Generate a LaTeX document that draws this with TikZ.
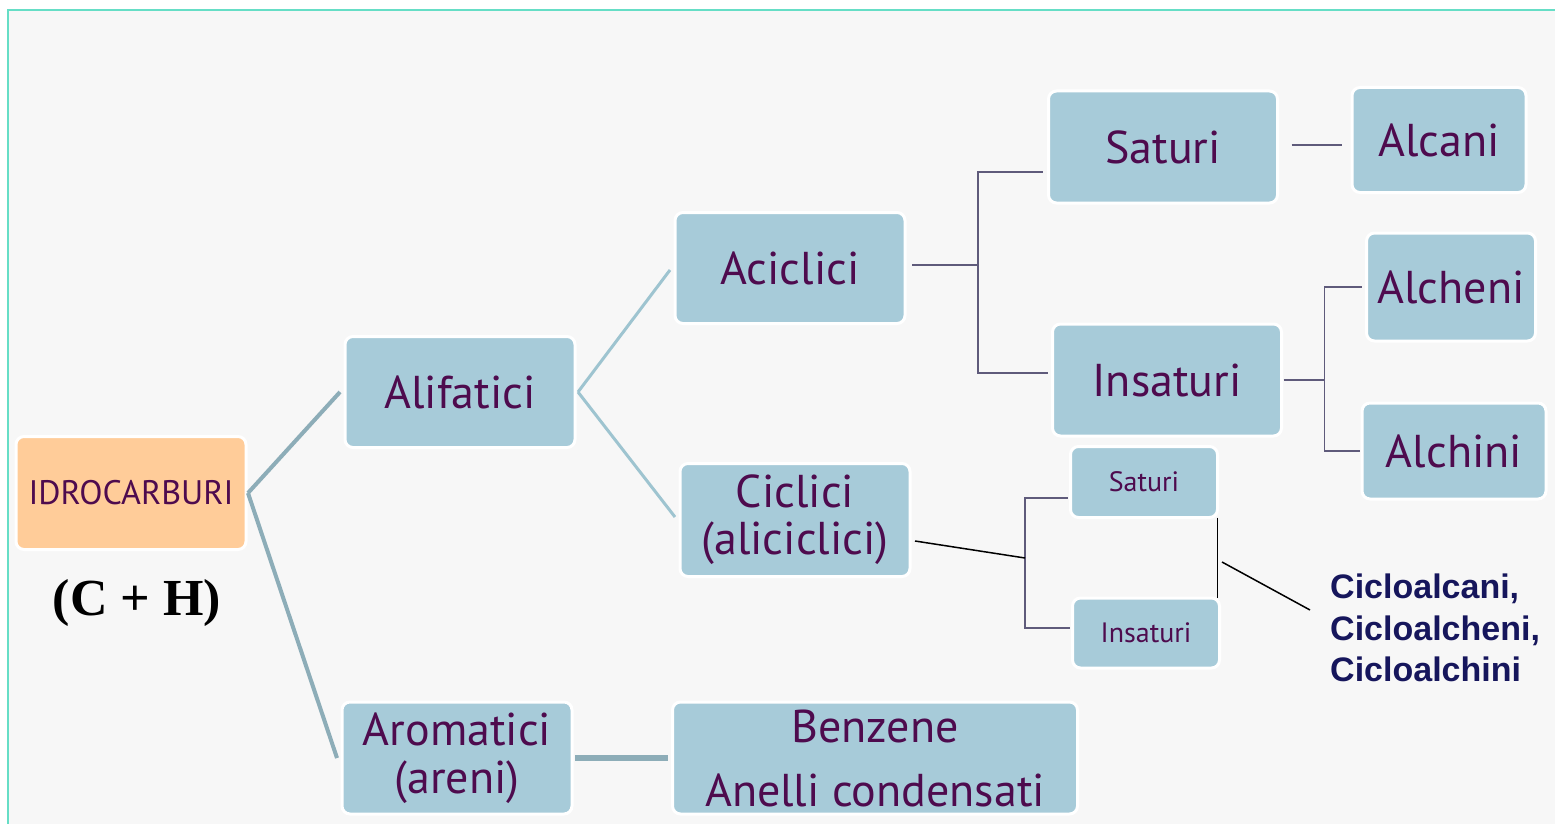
\documentclass[tikz,border=0pt]{standalone}
\usepackage{fontspec}
\setmainfont{PT Sans}
\newfontfamily\serifbf{Liberation Serif}
\newfontfamily\arialbf{Liberation Sans}
\definecolor{sfondo}{HTML}{F7F7F7}
\definecolor{cornice}{HTML}{66DEC6}
\definecolor{azzurro}{HTML}{A7CBD9}
\definecolor{arancio}{HTML}{FFCC99}
\definecolor{viola}{HTML}{4E0B4E}
\definecolor{ramo}{HTML}{8DADB8}
\definecolor{ramochiaro}{HTML}{9EC4D0}
\definecolor{linea}{HTML}{5F5B7B}
\definecolor{blunotte}{HTML}{16165C}
\begin{document}
\begin{tikzpicture}[x=1pt,y=-1pt,
  scatola/.style={rectangle,rounded corners=8pt,fill=azzurro,draw=white,line width=3pt,
    text=viola,align=center,inner sep=0pt,outer sep=0pt,font=\fontsize{46}{48}\selectfont},
  piccola/.style={scatola,font=\fontsize{28}{30}\selectfont},
  elbow/.style={linea,line width=1.5pt},
  nero/.style={black,line width=1.5pt}]
\useasboundingbox (0,0) rectangle (1555,824);
\fill[white] (0,0) rectangle (1555,824);
\fill[sfondo] (8,10) rectangle (1555,824);
\draw[cornice,line width=2pt] (8,824) -- (8,10) -- (1555,10);
% caselle
\node[scatola,fill=arancio,minimum width=230,minimum height=113,font=\fontsize{34}{36}\selectfont] (idro) at (131,493) {IDROCARBURI};
\node[font=\serifbf\bfseries\fontsize{52}{54}\selectfont] (ch) at (137,603) {(C + H)};
\node[scatola,minimum width=230,minimum height=111] (alif) at (460,392) {Alifatici};
\node[scatola,minimum width=230,minimum height=111] (acic) at (790,268) {Aciclici};
\node[scatola,minimum width=230,minimum height=113,font=\fontsize{46}{47}\selectfont] (cicl) at (795,520) {Ciclici\\(aliciclici)};
\node[scatola,minimum width=230,minimum height=112] (arom) at (457,758) {Aromatici\\(areni)};
\node[scatola,minimum width=405,minimum height=112] (benz) at (875,758) {Benzene\\[16pt]Anelli condensati};
\node[scatola,minimum width=229,minimum height=112] (sat) at (1163,147) {Saturi};
\node[scatola,minimum width=229,minimum height=112] (ins) at (1167,380) {Insaturi};
\node[scatola,minimum width=174,minimum height=105] (alca) at (1439,140) {Alcani};
\node[scatola,minimum width=169,minimum height=108] (alche) at (1451,287) {Alcheni};
\node[scatola,minimum width=184,minimum height=96] (alchi) at (1454,451) {Alchini};
\node[piccola,minimum width=147,minimum height=71] (ssat) at (1144,482) {Saturi};
\node[piccola,minimum width=147,minimum height=70] (sins) at (1146,633) {Insaturi};
\node[anchor=west,align=left,inner sep=0pt,text=blunotte,font=\arialbf\bfseries\fontsize{34}{41.5}\selectfont] (ciclo) at (1330,628) {Cicloalcani,\\Cicloalcheni,\\Cicloalchini};
% rami
\draw[ramo,line width=4pt] ([xshift=2pt]idro.east) -- ([xshift=-5pt]alif.west);
\draw[ramo,line width=4pt] ([xshift=2pt]idro.east) -- ([xshift=-5pt]arom.west);
\draw[ramochiaro,line width=3pt] ([xshift=3pt]alif.east) -- ([xshift=-5pt,yshift=-2pt]acic.west);
\draw[ramochiaro,line width=3pt] ([xshift=3pt]alif.east) -- ([xshift=-5pt,yshift=3pt]cicl.west);
\draw[ramo,line width=6pt] ([xshift=3pt]arom.east) -- ([xshift=-5pt]benz.west);
\draw[elbow] ([xshift=7pt,yshift=3pt]acic.east) -- ++(66,0) coordinate (nodo1);
\draw[elbow] ([xshift=-6pt,yshift=-25pt]sat.west) -| (nodo1) |- ([xshift=-5pt,yshift=7pt]ins.west);
\draw[elbow] ([xshift=14pt,yshift=2pt]sat.east) -- ([xshift=-10pt,yshift=2pt]sat.east -| alca.west);
\draw[elbow] ([xshift=2pt]ins.east) -- ++(41,0) coordinate (nodo2);
\draw[elbow] ([xshift=-5pt]alche.west) -| (nodo2) |- ([xshift=-2pt]alchi.west);
\coordinate (nodo3) at (1025,558);
\draw[elbow] ([xshift=-3pt,yshift=-16pt]ssat.west) -| (nodo3) |- ([xshift=-3pt,yshift=5pt]sins.west);
\draw[nero] ([xshift=5pt,yshift=-21pt]cicl.east) -- (nodo3);
\draw[nero] (ssat.south east) -- (ssat.south east |- sins.north);
\coordinate (nodo4) at (1222,562);
\draw[nero] (nodo4) -- ([xshift=-20pt,yshift=18pt]ciclo.west);
\end{tikzpicture}
\end{document}
